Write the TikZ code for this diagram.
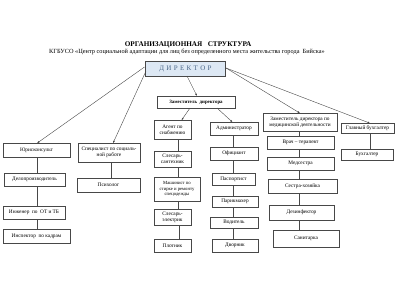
\documentclass[tikz,border=0pt]{standalone}
\usepackage{fontspec}
\setmainfont{Liberation Serif}
\usetikzlibrary{arrows.meta}
\definecolor{dirfill}{HTML}{DDE8F4}
\definecolor{dirtext}{HTML}{4A6688}
\definecolor{edge}{HTML}{484848}
\begin{document}
\begin{tikzpicture}[x=1pt,y=-1pt,
  box/.style={draw=edge,line width=0.45pt,fill=white,inner sep=0.5pt,align=center,font=\fontsize{5.3}{5.9}\selectfont},
  link/.style={draw=edge,line width=0.4pt},
  arr/.style={draw=edge,line width=0.4pt,-{Latex[length=2.4pt,width=1.8pt]}}]
\useasboundingbox[fill=white] (0,0) rectangle (401,306);
% titles
\node[font=\bfseries\fontsize{7.2}{8}\selectfont] (title) at (188,44.5) {ОРГАНИЗАЦИОННАЯ \ \ СТРУКТУРА};
\node[font=\fontsize{6.3}{7}\selectfont] (sub) at (187,51.8) {КГБУСО «Центр социальной адаптации для лиц без определенного места жительства города \ Бийска»};
% director
\node[draw=edge,line width=0.45pt,fill=dirfill,text=dirtext,minimum width=80pt,minimum height=15pt,inner sep=0pt,font=\fontsize{7}{8}\selectfont] (dir) at (185.5,68.5) {Д\,\,И\,\,Р\,\,Е\,\,К\,\,Т\,\,О\,\,Р};
\node[box,minimum width=78pt,minimum height=12pt,font=\bfseries\fontsize{4.9}{5.5}\selectfont] (zam) at (196,102) {Заместитель \ директора};
% left column
\node[box,minimum width=67pt,minimum height=14pt] (yur) at (36.5,150) {Юрисконсульт};
\node[box,minimum width=61pt,minimum height=13pt] (delo) at (34.5,179.5) {Делопроизводитель};
\node[box,minimum width=62pt,minimum height=13pt] (ing) at (34,212.5) {Инженер \ по \ ОТ и ТБ};
\node[box,minimum width=67pt,minimum height=14pt] (insp) at (36.5,236) {Инспектор \ по кадрам};
% specialist column
\node[box,minimum width=62pt,minimum height=19pt] (spec) at (109,152.5) {Специалист по социаль-\\ной работе};
\node[box,minimum width=63pt,minimum height=14pt] (psy) at (108.5,185) {Психолог};
% agent column
\node[box,minimum width=37pt,minimum height=19pt] (agent) at (172.5,129.5) {Агент по\\снабжению};
\node[box,minimum width=37pt,minimum height=16pt] (sant) at (172.5,159) {Слесарь-\\сантехник};
\node[box,minimum width=46pt,minimum height=24pt,font=\fontsize{4.7}{5.3}\selectfont] (mash) at (177,189) {Машинист по\\стирке и ремонту\\спецодежды};
\node[box,minimum width=37pt,minimum height=16pt] (elek) at (172.5,217) {Слесарь-\\электрик};
\node[box,minimum width=37pt,minimum height=13pt] (plot) at (172.5,245.5) {Плотник};
% administrator column
\node[box,minimum width=48pt,minimum height=13pt] (adm) at (234,128.5) {Администратор};
\node[box,minimum width=48pt,minimum height=13pt] (ofic) at (234,153.5) {Официант};
\node[box,minimum width=43pt,minimum height=12pt] (pasp) at (233.5,179) {Паспортист};
\node[box,minimum width=46pt,minimum height=11pt] (parik) at (235,201.5) {Парикмахер};
\node[box,minimum width=48pt,minimum height=11pt] (vod) at (234,222.5) {Водитель};
\node[box,minimum width=46pt,minimum height=13pt] (dvor) at (235,245.5) {Дворник};
% medical column
\node[box,minimum width=74pt,minimum height=18pt] (zmed) at (300,122) {Заместитель директора по\\медицинской деятельности};
\node[box,minimum width=67pt,minimum height=13pt] (vrach) at (300.5,142.5) {Врач – терапевт};
\node[box,minimum width=67pt,minimum height=13pt] (meds) at (300.5,163.5) {Медсестра};
\node[box,minimum width=69pt,minimum height=14pt] (sest) at (302.5,186) {Сестра-хозяйка};
\node[box,minimum width=65pt,minimum height=15pt] (dezin) at (301.5,212.5) {Дезинфектор};
\node[box,minimum width=66pt,minimum height=17pt] (sanit) at (306,238.5) {Санитарка};
% accounting column
\node[box,minimum width=53pt,minimum height=10pt] (glbuh) at (367.5,128) {Главный бухгалтер};
\node[box,minimum width=52pt,minimum height=11pt] (buh) at (367,154.5) {Бухгалтер};
% anchor points
\coordinate (dl1) at (144.5,67);
\coordinate (dl2) at (146,71);
\coordinate (dr) at (226,68);
\coordinate (dz) at (187,76);
\coordinate (za) at (190,108);
\coordinate (zb) at (217,108);
% arrows
\draw[arr] (dl1) -- (37,143.2);
\draw[arr] (dl2) -- (113,143.2);
\draw[arr] (dz) -- (197,96);
\draw[arr] (dr) -- (300,113.2);
\draw[arr] (dr) -- (370,123.2);
\draw[arr] (za) -- (181.5,120.2);
\draw[arr] (zb) -- (232.5,122.2);
% vertical links
\draw[link] (yur.south -| 37,0) -- (delo.north -| 37,0);
\draw[link] (delo.south -| 37,0) -- (ing.north -| 37,0);
\draw[link] (ing.south -| 37,0) -- (insp.north -| 37,0);
\draw[link] (spec.south -| 111,0) -- (psy.north -| 111,0);
\draw[link] (agent.south -| 178,0) -- (sant.north -| 178,0);
\draw[link] (sant.south -| 178,0) -- (mash.north -| 178,0);
\draw[link] (mash.south -| 178,0) -- (elek.north -| 178,0);
\draw[link] (elek.south -| 179,0) -- (plot.north -| 179,0);
\draw[link] (adm.south -| 233,0) -- (ofic.north -| 233,0);
\draw[link] (ofic.south -| 233,0) -- (pasp.north -| 233,0);
\draw[link] (pasp.south -| 233,0) -- (parik.north -| 233,0);
\draw[link] (parik.south -| 233,0) -- (vod.north -| 233,0);
\draw[link] (vod.south -| 233,0) -- (dvor.north -| 233,0);
\draw[link] (zmed.south -| 299,0) -- (vrach.north -| 299,0);
\draw[link] (vrach.south -| 299,0) -- (meds.north -| 299,0);
\draw[link] (meds.south -| 299,0) -- (sest.north -| 299,0);
\draw[link] (sest.south -| 299,0) -- (dezin.north -| 299,0);
\draw[link] (dezin.south -| 299,0) -- (sanit.north -| 299,0);
\draw[link] (glbuh.south -| 370,0) -- (buh.north -| 370,0);
\end{tikzpicture}
\end{document}
